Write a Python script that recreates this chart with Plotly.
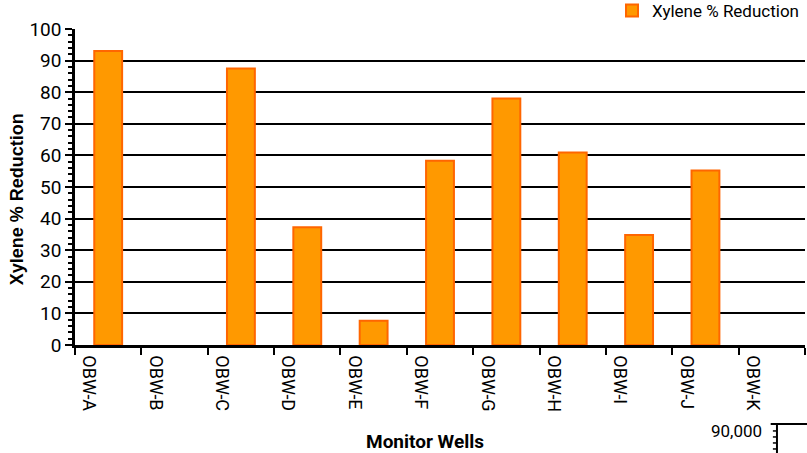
import plotly.graph_objects as go

wells = ["OBW-A", "OBW-B", "OBW-C", "OBW-D", "OBW-E", "OBW-F",
         "OBW-G", "OBW-H", "OBW-I", "OBW-J", "OBW-K"]
xylene_reduction = [93.0, None, 87.5, 37.3, 7.7, 58.3, 78.0, 60.9, 34.8, 55.2, None]
series_name = "Xylene % Reduction"
y_title = "Xylene % Reduction"
x_title = "Monitor Wells"
fragment_label = "90,000"

NARROW = "Roboto, sans-serif"

fig = go.Figure()
fig.add_trace(go.Bar(
    x=wells, y=xylene_reduction, name=series_name,
    marker=dict(color="#FF9900", line=dict(color="#FF6600", width=2)),
    width=0.42,
))

fig.update_layout(
    width=807, height=453,
    margin=dict(l=75, r=2, t=29, b=108, autoexpand=False),
    paper_bgcolor="white", plot_bgcolor="white",
    showlegend=True,
    legend=dict(x=1.0, xanchor="right", y=1.0, yanchor="bottom",
                font=dict(family=NARROW, size=17, color="black"),
                bgcolor="rgba(0,0,0,0)", borderwidth=0,
                itemwidth=30, tracegroupgap=0),
    font=dict(family=NARROW, color="black"),
)

fig.update_xaxes(
    type="category",
    tickson="boundaries",
    ticks="outside", ticklen=7, tickwidth=2, tickcolor="black",
    tickangle=90,
    ticklabelshift=-19,
    ticklabelstandoff=4,
    tickfont=dict(family=NARROW, size=18, color="black"),
    showline=True, linecolor="black", linewidth=2.5,
    showgrid=False,
    range=[-0.5, 10.5],
)

fig.update_yaxes(
    range=[0, 100], dtick=10, tick0=0,
    ticks="outside", ticklen=7, tickwidth=2, tickcolor="black",
    tickfont=dict(family=NARROW, size=19, color="black"),
    showline=True, linecolor="black", linewidth=2.5,
    showgrid=True, gridcolor="black", gridwidth=2.2,
    zeroline=False,
    minor=dict(dtick=2, ticks="outside", ticklen=4, tickwidth=1.5,
               tickcolor="black", showgrid=False),
)

# axis titles
fig.add_annotation(text="<b>" + y_title + "</b>", xref="paper", yref="paper",
                   x=-0.08, y=0.46, textangle=-90, showarrow=False,
                   font=dict(family="Liberation Sans, Arial, sans-serif", size=18, color="black"),
                   xanchor="center", yanchor="middle")
fig.add_annotation(text="<b>" + x_title + "</b>", xref="paper", yref="paper",
                   x=0.479, y=-0.305, showarrow=False,
                   font=dict(family=NARROW, size=19, color="black"),
                   xanchor="center", yanchor="middle")

# fragment of the next chart peeking in at the bottom-right
fig.add_annotation(text=fragment_label, xref="paper", yref="paper",
                   x=0.944, y=-0.272, showarrow=False,
                   font=dict(family=NARROW, size=17, color="black"),
                   xanchor="right", yanchor="middle")
frag_line = dict(color="black", width=2)
fig.add_shape(type="line", xref="paper", yref="paper",
              x0=0.9616, x1=0.9616, y0=-0.247, y1=-0.345, line=frag_line)
fig.add_shape(type="line", xref="paper", yref="paper",
              x0=0.953, x1=1.003, y0=-0.25, y1=-0.25, line=frag_line)
for yy in [-0.272, -0.291, -0.310, -0.329]:
    fig.add_shape(type="line", xref="paper", yref="paper",
                  x0=0.956, x1=0.9616, y0=yy, y1=yy,
                  line=dict(color="black", width=1.5))

fig.write_html("out.html")
